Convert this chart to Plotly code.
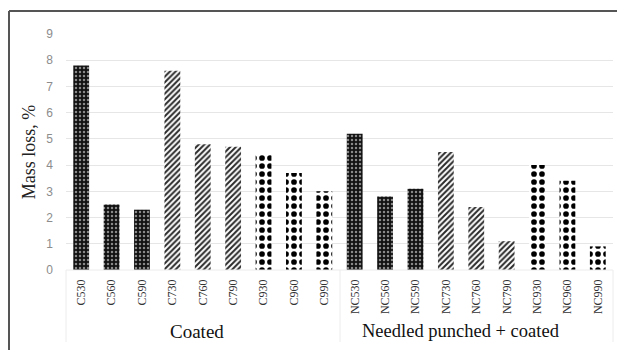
import plotly.graph_objects as go

categories = ["C530", "C560", "C590", "C730", "C760", "C790", "C930", "C960", "C990",
              "NC530", "NC560", "NC590", "NC730", "NC760", "NC790", "NC930", "NC960", "NC990"]
mass_loss = [7.8, 2.5, 2.3, 7.6, 4.8, 4.7, 4.4, 3.7, 3.0,
             5.2, 2.8, 3.1, 4.5, 2.4, 1.1, 4.0, 3.4, 0.9]
groups = ["Coated", "Needled punched + coated"]
y_ticks = [0, 1, 2, 3, 4, 5, 6, 7, 8, 9]

# page body has an 8px margin; work in screenshot coordinates and offset
OFF = 8
W, H = 625 - OFF, 350 - OFF
ML, MR, MT, MB = 66 - OFF, 12, 34 - OFF, 80
PW, PH = W - ML - MR, H - MT - MB

def px(x):
    return (x - OFF - ML) / PW

def py(y):
    return (H - MB - (y - OFF)) / PH

def style(cat):
    d = cat[-3]
    if d == "5":
        return dict(color="#111111", pattern=dict(shape=".", fgcolor="#ffffff", bgcolor="#111111",
                                                  size=4, solidity=0.3, fillmode="overlay"))
    if d == "7":
        return dict(color="#ffffff", pattern=dict(shape="/", fgcolor="#2a2a2a", bgcolor="#ffffff",
                                                  size=4, solidity=0.5, fillmode="replace"))
    return dict(color="#ffffff", pattern=dict(shape=".", fgcolor="#000000", bgcolor="#ffffff",
                                              size=8, solidity=0.4, fillmode="replace"))

fig = go.Figure()
for c, v in zip(categories, mass_loss):
    s = style(c)
    fig.add_trace(go.Bar(x=[c], y=[v], marker=dict(color=s["color"], pattern=s["pattern"],
                                                   line=dict(width=0)),
                         showlegend=False, width=0.52))

fig.update_layout(
    width=W, height=H,
    margin=dict(l=ML, r=MR, t=MT, b=MB, autoexpand=False),
    paper_bgcolor="#ffffff", plot_bgcolor="#ffffff",
    barmode="overlay",
    xaxis=dict(type="category", categoryorder="array", categoryarray=categories,
               tickangle=-90, ticklabelstandoff=6,
               tickfont=dict(family="Liberation Serif", size=12, color="#333333"),
               showgrid=False, showline=False, ticks="", zeroline=False),
    yaxis=dict(range=[0, 9], tickvals=y_ticks, showgrid=True, gridcolor="#e6e6e6", gridwidth=1,
               zeroline=False, showline=False, ticks="", ticklabelstandoff=12,
               tickfont=dict(family="Liberation Sans", size=12, color="#8c8c8c"),
               title=dict(text="Mass loss, %", font=dict(family="Liberation Serif", size=18, color="#222222"),
                          standoff=6)),
)

# outer frame (top and left)
fig.add_shape(type="line", xref="paper", yref="paper", x0=px(9), x1=px(625), y0=py(11), y1=py(11),
              line=dict(color="#555555", width=2))
fig.add_shape(type="line", xref="paper", yref="paper", x0=px(9), x1=px(9), y0=py(11), y1=py(350),
              line=dict(color="#555555", width=2))

# faint category-table lines
for xv in [66, 340, 613]:
    fig.add_shape(type="line", xref="paper", yref="paper", x0=px(xv), x1=px(xv), y0=py(270), y1=py(342),
                  line=dict(color="#ececec", width=1))
fig.add_shape(type="line", xref="paper", yref="paper", x0=px(66), x1=px(613), y0=py(270), y1=py(270),
              line=dict(color="#ececec", width=1))

# group labels
fig.add_annotation(text=groups[0], xref="paper", yref="paper", x=px(197), y=py(331),
                   xanchor="center", yanchor="middle",
                   showarrow=False, font=dict(family="Liberation Serif", size=19, color="#111111"))
fig.add_annotation(text=groups[1], xref="paper", yref="paper", x=px(461), y=py(331),
                   xanchor="center", yanchor="middle",
                   showarrow=False, font=dict(family="Liberation Serif", size=18.5, color="#111111"))

fig.write_html("out.html")
